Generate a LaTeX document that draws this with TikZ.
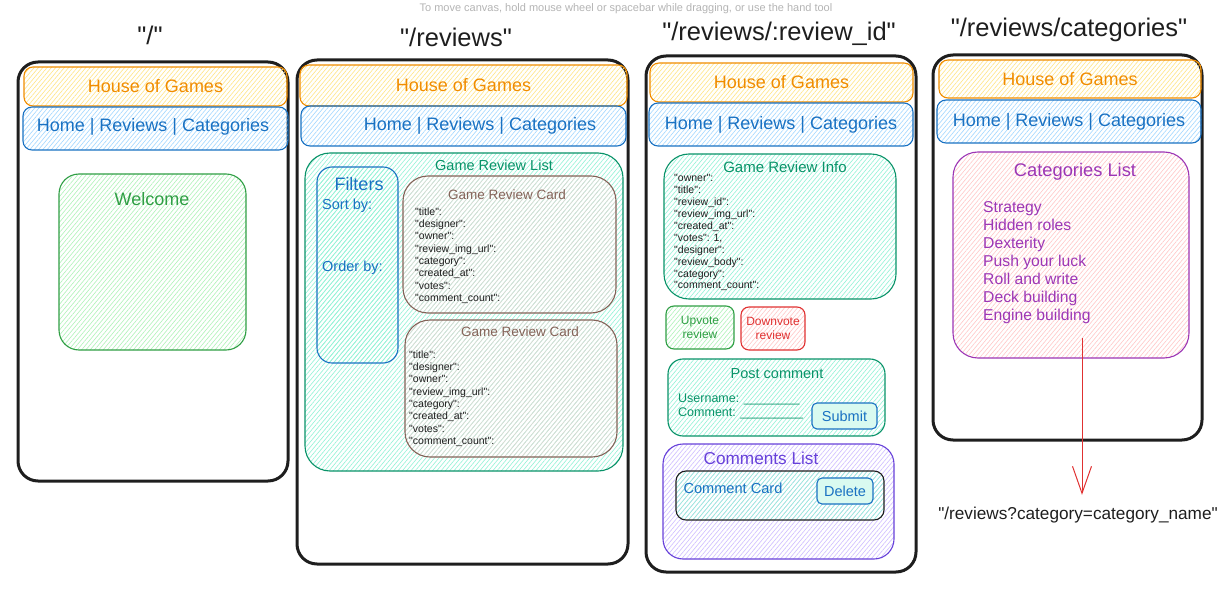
\documentclass[tikz,border=0pt]{standalone}
\usepackage{fontspec}
\setmainfont{Liberation Sans}[Ligatures=TeXOff]
\usetikzlibrary{positioning,patterns.meta,arrows.meta}

\definecolor{ink}{HTML}{1E1E1E}
\definecolor{hogorange}{HTML}{F08C00}
\definecolor{hogfill}{HTML}{FFE58A}
\definecolor{navblue}{HTML}{1971C2}
\definecolor{navfill}{HTML}{A5D8FF}
\definecolor{welgreen}{HTML}{2F9E44}
\definecolor{welfill}{HTML}{B2F2BB}
\definecolor{listteal}{HTML}{099268}
\definecolor{listfill}{HTML}{96F2D7}
\definecolor{cardbrown}{HTML}{846358}
\definecolor{cardfill}{HTML}{E2D8D3}
\definecolor{downred}{HTML}{E03131}
\definecolor{downfill}{HTML}{FFC9C9}
\definecolor{compurple}{HTML}{6741D9}
\definecolor{comfill}{HTML}{D0BFFF}
\definecolor{catpurple}{HTML}{9C36B5}
\definecolor{btnfill}{HTML}{D9FAF0}
\definecolor{hintgray}{HTML}{B4B4B4}

\newcommand{\pxsize}[2]{\fontsize{#1}{#2}\selectfont}

\begin{document}
\begin{tikzpicture}[x=1pt, y=-1pt,
  every node/.style={inner sep=0pt},
  wh/.style 2 args={minimum width=#1pt, minimum height=#2pt},
  hatch/.style={pattern={Lines[angle=50,distance=3.3pt,line width=0.65pt]}, pattern color=#1},
  sketch/.style 2 args={draw=#1, text=#1, line width=1.1pt, hatch=#2},
  screen/.style={draw=ink, line width=3pt, rounded corners=20pt},
  route/.style={text=ink, font=\pxsize{25.5}{30}},
  hog/.style={sketch={hogorange}{hogfill}, rounded corners=9pt, font=\pxsize{18}{22}},
  nav/.style={sketch={navblue}{navfill}, rounded corners=9pt, font=\pxsize{18}{22}},
  navtext/.style={text=navblue, font=\pxsize{18}{22}},
  fields/.style={text=ink, anchor=north west, align=left, font=\pxsize{10.5}{#1}},
  button/.style={draw=navblue, text=navblue, fill=btnfill, line width=1.1pt, rounded corners=5pt, font=\pxsize{14.5}{18}},
  vote/.style 2 args={sketch={#1}{#2}, rounded corners=8pt, align=center, font=\pxsize{12}{14}},
  catlink/.style={draw=downred, line width=1pt, -{Straight Barb[length=27pt,width=19pt,line width=1pt]}}]

  \useasboundingbox (0,0) rectangle (1229,596);
  \node [text=hintgray, font=\pxsize{11}{13}] (hint) at (626,9)
    {To move canvas, hold mouse wheel or spacebar while dragging, or use the hand tool};

  % route "/"
  \node [route] (r1) at (150,35) {"/"};
  \node [screen, wh={270}{419}] (scr1) at (153,271.5) {};
  \node [hog, wh={263}{39}] (hog1) at (155.5,86.5) {House of Games};
  \node [nav, wh={265}{43}] (nav1) at (155.5,128.5) {};
  \node [navtext] (nav1t) at (153,127) {Home | Reviews | Categories};
  \node [sketch={welgreen}{welfill}, rounded corners=20pt, wh={187}{176}] (wel) at (152.5,262) {};
  \node [text=welgreen, font=\pxsize{18}{22}] (welt) at (152,199) {Welcome};

  % route "/reviews"
  \node [route] (r2) at (456,37) {"/reviews"};
  \node [screen, wh={331}{504}] (scr2) at (462.5,312) {};
  \node [hog, wh={327}{41}] (hog2) at (463.5,85.5) {House of Games};
  \node [nav, wh={325}{40}] (nav2) at (463.5,126) {};
  \node [navtext] (nav2t) at (480,126) {Home | Reviews | Categories};
  \node [sketch={listteal}{listfill}, rounded corners=25pt, wh={318}{318}] (grl) at (464,312) {};
  \node [text=listteal, font=\pxsize{14.5}{18}] (grlt) at (494,165) {Game Review List};
  \node [sketch={navblue}{listfill}, rounded corners=15pt, wh={81}{196}] (filt) at (357.5,265) {};
  \node [text=navblue, font=\pxsize{18}{22}] (filtt) at (359,184) {Filters};
  \node [text=navblue, font=\pxsize{14.5}{18}, anchor=west] (sort) at (322,206) {Sort by:};
  \node [text=navblue, font=\pxsize{14.5}{18}, anchor=west] (order) at (322,268) {Order by:};
  \node [sketch={cardbrown}{cardfill}, rounded corners=25pt, wh={213}{137}] (card1) at (509.5,244.5) {};
  \node [text=cardbrown, font=\pxsize{13.5}{16}] (card1t) at (507,195) {Game Review Card};
  \node [fields=12.29] (card1f) at (415,207.5)
    {"title":\\"designer":\\"owner":\\"review\_img\_url":\\"category":\\"created\_at":\\"votes":\\"comment\_count":};
  \node [sketch={cardbrown}{cardfill}, rounded corners=25pt, wh={212}{137}] (card2) at (511,388.5) {};
  \node [text=cardbrown, font=\pxsize{13.5}{16}] (card2t) at (520,332) {Game Review Card};
  \node [fields=12.29] (card2f) at (409,350.5)
    {"title":\\"designer":\\"owner":\\"review\_img\_url":\\"category":\\"created\_at":\\"votes":\\"comment\_count":};

  % route "/reviews/:review_id"
  \node [route] (r3) at (779,34) {"/reviews/:review\_id"};
  \node [screen, wh={270}{516}] (scr3) at (781,314) {};
  \node [hog, wh={263}{39}] (hog3) at (781.5,82.5) {House of Games};
  \node [nav, wh={264}{43}] (nav3) at (781,124.5) {Home | Reviews | Categories};
  \node [sketch={listteal}{listfill}, rounded corners=25pt, wh={232}{145}] (info) at (780,226.5) {};
  \node [text=listteal, font=\pxsize{15}{18}] (infot) at (785,167) {Game Review Info};
  \node [fields=11.89] (infof) at (674,174.5)
    {"owner":\\"title":\\"review\_id":\\"review\_img\_url":\\"created\_at":\\"votes": 1,\\"designer":\\"review\_body":\\"category":\\"comment\_count":};
  \node [vote={welgreen}{welfill}, wh={68}{43}] (up) at (700,327.5) {Upvote\\review};
  \node [vote={downred}{downfill}, wh={64}{43}] (down) at (773,328.5) {Downvote\\review};
  \node [sketch={listteal}{listfill}, rounded corners=15pt, wh={217}{77}] (post) at (776.5,397.5) {};
  \node [text=listteal, font=\pxsize{14.5}{18}] (postt) at (777,374) {Post comment};
  \node [text=listteal, font=\pxsize{12.5}{14}, anchor=north west, align=left] (postf) at (678,393.5)
    {Username: \_\_\_\_\_\_\_\_\\Comment: \_\_\_\_\_\_\_\_\_};
  \node [button, wh={65}{26}] (submit) at (844.5,416) {Submit};
  \node [sketch={compurple}{comfill}, rounded corners=20pt, wh={231}{115}] (clist) at (778.5,501.5) {};
  \node [text=compurple, font=\pxsize{17.2}{20}] (clistt) at (761,458) {Comments List};
  \node [sketch={ink}{listfill}, rounded corners=10pt, wh={208}{49}] (ccard) at (780,495.5) {};
  \node [text=navblue, font=\pxsize{14.6}{18}] (ccardt) at (733,488) {Comment Card};
  \node [button, wh={56}{26}] (del) at (845,491) {Delete};

  % route "/reviews/categories"
  \node [route] (r4) at (1069,30) {"/reviews/categories"};
  \node [screen, wh={269}{385}] (scr4) at (1067.5,247.5) {};
  \node [hog, wh={262}{38}] (hog4) at (1070,79) {House of Games};
  \node [nav, wh={264}{43}] (nav4) at (1069,121.5) {Home | Reviews | Categories};
  \node [sketch={catpurple}{downfill}, rounded corners=25pt, wh={236}{206}] (cats) at (1071,255) {};
  \node [text=catpurple, font=\pxsize{18.3}{22}] (catst) at (1075,172) {Categories List};
  \node [text=catpurple, font=\pxsize{15.7}{18}, anchor=north west, align=left] (catsf) at (983,201.5)
    {Strategy\\Hidden roles\\Dexterity\\Push your luck\\Roll and write\\Deck building\\Engine building};

  % category link
  \node [text=ink, font=\pxsize{17.2}{20}] (qry) at (1078,515) {"/reviews?category=category\_name"};
  \coordinate (catsarr) at (1082,338);
  \draw [catlink, shorten >=12pt] (catsarr) -- (catsarr |- qry.north);
\end{tikzpicture}
\end{document}
